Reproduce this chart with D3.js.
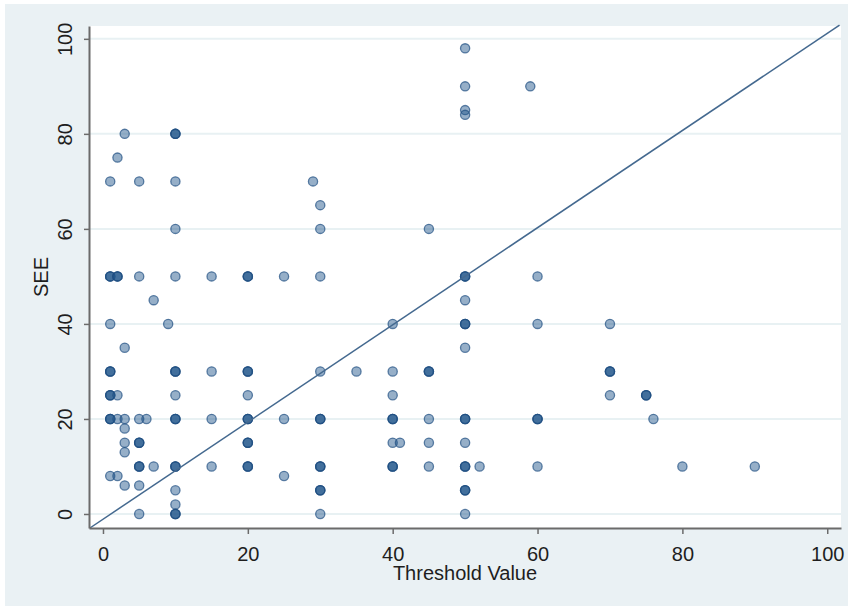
<!DOCTYPE html>
<html>
<head>
<meta charset="utf-8">
<script src="https://cdn.jsdelivr.net/npm/d3@7"></script>
<style>
  body { margin: 0; background: #fff; }
  svg { display: block; }
</style>
</head>
<body>
<svg id="chart" width="851" height="608"></svg>
<script>
// threshold value (x), SEE (y), and how many observations sit on that spot
var thresholdVals = [
  1, 1, 1, 1, 1, 1, 1,
  2, 2, 2, 2, 2,
  3, 3, 3, 3, 3, 3, 3,
  5, 5, 5, 5, 5, 5, 5,
  6, 7, 7, 9,
  10, 10, 10, 10, 10, 10, 10, 10, 10, 10, 10,
  15, 15, 15, 15,
  20, 20, 20, 20, 20, 20,
  25, 25, 25, 29,
  30, 30, 30, 30, 30, 30, 30, 30,
  35,
  40, 40, 40, 40, 40, 40, 41,
  45, 45, 45, 45, 45,
  50, 50, 50, 50, 50, 50, 50, 50, 50, 50, 50, 50, 50,
  52, 59,
  60, 60, 60, 60,
  70, 70, 70,
  75, 76, 80, 90
];
var seeVals = [
  70, 50, 40, 30, 25, 20, 8,
  75, 50, 25, 20, 8,
  80, 35, 20, 18, 15, 13, 6,
  70, 50, 20, 15, 10, 6, 0,
  20, 45, 10, 40,
  80, 70, 60, 50, 30, 25, 20, 10, 5, 2, 0,
  50, 30, 20, 10,
  50, 30, 25, 20, 15, 10,
  50, 20, 8, 70,
  65, 60, 50, 30, 20, 10, 5, 0,
  30,
  40, 30, 25, 20, 15, 10, 15,
  60, 30, 20, 15, 10,
  98, 90, 85, 84, 50, 45, 40, 35, 20, 15, 10, 5, 0,
  10, 90,
  50, 40, 20, 10,
  40, 30, 25,
  25, 20, 10, 10
];
var counts = [
  1, 3, 1, 3, 3, 3, 1,
  1, 3, 1, 1, 1,
  1, 1, 1, 1, 1, 1, 1,
  1, 1, 1, 3, 3, 1, 1,
  1, 1, 1, 1,
  3, 1, 1, 1, 3, 1, 3, 3, 1, 1, 3,
  1, 1, 1, 1,
  3, 3, 1, 3, 3, 3,
  1, 1, 1, 1,
  1, 1, 1, 1, 3, 3, 3, 1,
  1,
  1, 1, 1, 3, 1, 3, 1,
  1, 3, 1, 1, 1,
  1, 1, 1, 1, 3, 1, 3, 1, 3, 1, 3, 3, 1,
  1, 1,
  1, 1, 3, 1,
  1, 3, 1,
  3, 1, 1, 1
];
// ends of the diagonal reference line
var refLineX = [-1.8, 101.7];
var refLineY = [-2.95, 102.9];

var xTicks = [0, 20, 40, 60, 80, 100];
var yTicks = [0, 20, 40, 60, 80, 100];

var points = [];
thresholdVals.forEach(function(v, i) {
  for (var k = 0; k < counts[i]; k++) points.push({x: v, y: seeVals[i]});
});

var svg = d3.select("#chart"),
    margin = {top: 26, right: 10, bottom: 80, left: 89},
    width = +svg.attr("width") - margin.left - margin.right,
    height = +svg.attr("height") - margin.top - margin.bottom;

var font = "Liberation Sans, Arial, sans-serif";

svg.append("rect")
    .attr("x", 5).attr("y", 4)
    .attr("width", 843).attr("height", 602)
    .attr("fill", "#eaf1f4");

var g = svg.append("g").attr("transform", "translate(" + margin.left + "," + margin.top + ")");

g.append("rect")
    .attr("width", width).attr("height", height)
    .attr("fill", "#fff");

var x = d3.scaleLinear().domain([-1.93, 101.9]).range([0, width]);
var y = d3.scaleLinear().domain([-2.95, 102.7]).range([height, 0]);

// grid
g.selectAll(".grid")
  .data(yTicks)
  .enter().append("line")
    .attr("x1", 0).attr("x2", width)
    .attr("y1", function(d) { return y(d); })
    .attr("y2", function(d) { return y(d); })
    .attr("stroke", "#e8f1f3")
    .attr("stroke-width", 2);

// points
g.selectAll(".dot")
  .data(points)
  .enter().append("circle")
    .attr("cx", function(d) { return x(d.x); })
    .attr("cy", function(d) { return y(d.y); })
    .attr("r", 4.6)
    .attr("fill", "#24578c")
    .attr("fill-opacity", 0.48)
    .attr("stroke", "#1f4f82")
    .attr("stroke-opacity", 0.7)
    .attr("stroke-width", 1.3);

// reference line
g.append("path")
    .datum(refLineX.map(function(v, i) { return [v, refLineY[i]]; }))
    .attr("fill", "none")
    .attr("stroke", "#44698f")
    .attr("stroke-width", 1.5)
    .attr("d", d3.line()
      .x(function(d) { return x(d[0]); })
      .y(function(d) { return y(d[1]); }));

var xAxis = d3.axisBottom(x).tickValues(xTicks).tickSize(6).tickSizeOuter(0);
var yAxis = d3.axisLeft(y).tickValues(yTicks).tickSize(5).tickSizeOuter(0);

function customX(a) {
  a.call(xAxis);
  a.select(".domain").attr("stroke", "#6b6b6b").attr("stroke-width", 2);
  a.selectAll(".tick line").attr("stroke", "#6b6b6b").attr("stroke-width", 1.5);
  a.selectAll(".tick text").attr("y", 33).attr("dy", 0)
    .attr("fill", "#1e1e1e").attr("font-family", font).attr("font-size", 20);
}

function customY(a) {
  a.call(yAxis);
  a.select(".domain").attr("stroke", "#6b6b6b").attr("stroke-width", 2);
  a.selectAll(".tick line").attr("stroke", "#6b6b6b").attr("stroke-width", 1.5);
  a.selectAll(".tick text")
    .attr("transform", "rotate(-90)")
    .attr("x", 0).attr("y", -17).attr("dy", 0)
    .attr("fill", "#1e1e1e").attr("font-family", font).attr("font-size", 20)
    .style("text-anchor", "middle");
}

g.append("g").attr("transform", "translate(0," + height + ")").call(customX);
g.append("g").call(customY);

g.append("text")
    .attr("x", width / 2).attr("y", height + 52)
    .attr("text-anchor", "middle")
    .attr("font-family", font).attr("font-size", 20).attr("fill", "#1e1e1e")
    .text("Threshold Value");

g.append("text")
    .attr("transform", "translate(-41," + (height / 2) + ") rotate(-90)")
    .attr("text-anchor", "middle")
    .attr("font-family", font).attr("font-size", 20).attr("fill", "#1e1e1e")
    .text("SEE");
</script>
</body>
</html>
